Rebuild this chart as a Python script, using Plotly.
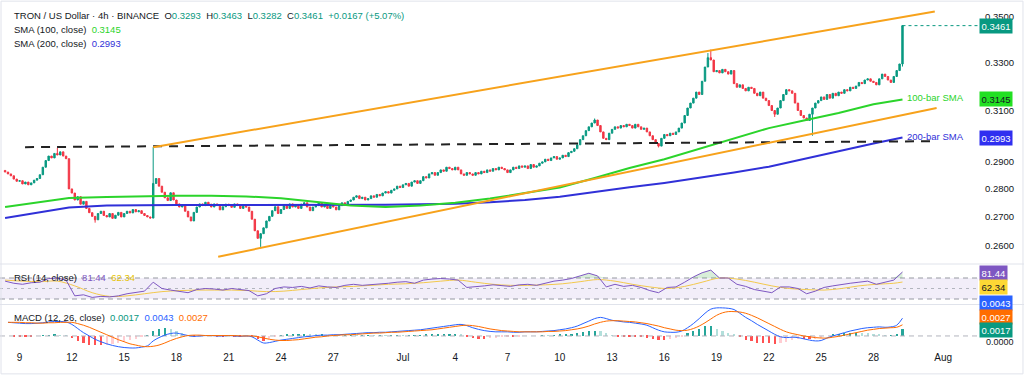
import math
import pandas as pd
import plotly.graph_objects as go

W, H = 1024, 375
PLOT_R = 978  # right edge of plotting area in px

# ---------------- data ----------------
candle_start = "2025-06-08 04:00"
first_open = 0.2868
closes = [
    0.2862, 0.2855, 0.2848, 0.2836, 0.2828,
    0.2830, 0.2818, 0.2825, 0.2815, 0.2822, 0.2832,
    0.2838, 0.2852, 0.2880, 0.2905, 0.2922, 0.2915,
    0.2932, 0.2926, 0.2938, 0.2922, 0.2912, 0.2800,
    0.2785, 0.2760, 0.2772, 0.2745, 0.2755, 0.2730,
    0.2715, 0.2702, 0.2690, 0.2712, 0.2720, 0.2705,
    0.2700, 0.2712, 0.2695, 0.2706, 0.2716, 0.2700,
    0.2712, 0.2720, 0.2714, 0.2726, 0.2718, 0.2722,
    0.2712, 0.2705, 0.2700, 0.2696, 0.2820, 0.2838,
    0.2810, 0.2788, 0.2768, 0.2758, 0.2786, 0.2760,
    0.2746, 0.2735, 0.2742, 0.2720, 0.2700, 0.2686,
    0.2716, 0.2735, 0.2746, 0.2740, 0.2752, 0.2745,
    0.2735, 0.2746, 0.2740, 0.2725, 0.2736, 0.2745,
    0.2740, 0.2734, 0.2746, 0.2740, 0.2730, 0.2738,
    0.2735, 0.2720, 0.2692, 0.2652, 0.2626, 0.2642,
    0.2662, 0.2686, 0.2702, 0.2722, 0.2736, 0.2712,
    0.2726, 0.2740, 0.2730, 0.2746, 0.2735, 0.2742,
    0.2730, 0.2745, 0.2750, 0.2735, 0.2722, 0.2735,
    0.2740, 0.2750, 0.2735, 0.2745, 0.2730, 0.2740,
    0.2735, 0.2725, 0.2740, 0.2750, 0.2745, 0.2755,
    0.2760, 0.2770, 0.2775, 0.2765, 0.2770, 0.2760,
    0.2765, 0.2775, 0.2770, 0.2780, 0.2775, 0.2785,
    0.2790, 0.2785, 0.2795, 0.2800, 0.2810, 0.2805,
    0.2815, 0.2820, 0.2810, 0.2825, 0.2830, 0.2820,
    0.2830, 0.2845, 0.2840, 0.2855, 0.2860, 0.2850,
    0.2860, 0.2870, 0.2865, 0.2880, 0.2875, 0.2870,
    0.2880, 0.2870, 0.2855, 0.2850, 0.2860, 0.2855,
    0.2850, 0.2860, 0.2855, 0.2865, 0.2860, 0.2870,
    0.2865, 0.2875, 0.2870, 0.2880, 0.2875, 0.2870,
    0.2860, 0.2870, 0.2880, 0.2875, 0.2885, 0.2880,
    0.2885, 0.2875, 0.2890, 0.2880, 0.2885, 0.2895,
    0.2900, 0.2910, 0.2905, 0.2915, 0.2920, 0.2910,
    0.2915, 0.2925, 0.2920, 0.2935, 0.2940, 0.2950,
    0.2965, 0.2985, 0.3000, 0.3020, 0.3035, 0.3050,
    0.3062, 0.3040, 0.3015, 0.2990, 0.2985, 0.3010,
    0.3025, 0.3035, 0.3030, 0.3040, 0.3035, 0.3045,
    0.3040, 0.3030, 0.3045, 0.3035, 0.3025, 0.3030,
    0.3015, 0.3000, 0.2985, 0.2970, 0.2960, 0.2990,
    0.3005, 0.3000, 0.3010, 0.3005, 0.3015, 0.3030,
    0.3050, 0.3080, 0.3110, 0.3130, 0.3150, 0.3175,
    0.3165, 0.3220, 0.3280, 0.3320, 0.3310, 0.3260,
    0.3265, 0.3255, 0.3270, 0.3260, 0.3250, 0.3265,
    0.3210, 0.3195, 0.3205, 0.3190, 0.3180, 0.3195,
    0.3190, 0.3170, 0.3160, 0.3175, 0.3150, 0.3140,
    0.3120, 0.3100, 0.3085, 0.3110, 0.3140, 0.3165,
    0.3185, 0.3180, 0.3170, 0.3130, 0.3100, 0.3080,
    0.3070, 0.3060, 0.3085, 0.3110, 0.3130, 0.3140,
    0.3155, 0.3145, 0.3165, 0.3150, 0.3170, 0.3160,
    0.3175, 0.3170, 0.3185, 0.3180, 0.3195, 0.3190,
    0.3200, 0.3215, 0.3210, 0.3225, 0.3230, 0.3220,
    0.3215, 0.3205, 0.3230, 0.3250, 0.3240, 0.3225,
    0.3215, 0.3240, 0.3265, 0.3293, 0.3461,
]
wick_high = {18: 0.2953, 51: 0.2956, 203: 0.3068, 242: 0.3340, 243: 0.3355, 309: 0.3463}
wick_low = {31: 0.2680, 88: 0.2597, 225: 0.2955, 265: 0.3074, 278: 0.3000, 309: 0.3282}

sma_times = ["2025-06-08 04:00", "2025-06-10", "2025-06-11 20:00", "2025-06-14", "2025-06-16",
             "2025-06-18", "2025-06-20", "2025-06-22", "2025-06-24", "2025-06-26", "2025-06-28",
             "2025-06-30", "2025-07-02", "2025-07-04", "2025-07-06", "2025-07-08", "2025-07-10",
             "2025-07-12", "2025-07-14", "2025-07-16", "2025-07-18", "2025-07-20", "2025-07-22",
             "2025-07-24", "2025-07-26", "2025-07-28", "2025-07-29 16:00"]
sma100 = [0.2735, 0.2750, 0.2767, 0.2771, 0.2774, 0.2775, 0.2775, 0.2773, 0.2766, 0.2753, 0.2740,
          0.2735, 0.2740, 0.2750, 0.2765, 0.2785, 0.2805, 0.2840, 0.2877, 0.2910, 0.2950, 0.2990,
          0.3030, 0.3060, 0.3090, 0.3125, 0.3145]
sma200 = [0.2696, 0.2715, 0.2733, 0.2740, 0.2742, 0.2742, 0.2742, 0.2742, 0.2742, 0.2742, 0.2742,
          0.2743, 0.2745, 0.2747, 0.2752, 0.2760, 0.2772, 0.2790, 0.2806, 0.2822, 0.2840, 0.2860,
          0.2882, 0.2910, 0.2940, 0.2970, 0.2993]

# trend lines (start/end points)
upper_channel_t = ["2025-06-16 16:00", "2025-07-31 12:30"]
upper_channel_p = [0.2956, 0.3525]
lower_channel_t = ["2025-06-20 09:30", "2025-07-31 15:00"]
lower_channel_p = [0.2564, 0.3110]
resist_t = ["2025-06-09 07:30", "2025-07-31 12:30"]
resist_p = [0.2956, 0.2979]

# RSI sampled every 12h from Jun 8 04:00
rsi_start = "2025-06-08 04:00"
rsi = [64, 60, 58, 61, 62, 69, 70, 66, 36, 38, 33, 35, 34, 36, 40, 43, 45, 62, 50, 47,
       44, 42, 48, 50, 49, 47, 50, 48, 46, 36, 40, 50, 53, 52, 54, 51, 55, 53, 52, 56,
       58, 56, 57, 59, 60, 62, 63, 60, 66, 68, 69, 68, 66, 52, 53, 55, 57, 55, 54, 57,
       58, 56, 60, 64, 66, 69, 74, 79, 74, 53, 58, 54, 56, 52, 46, 42, 52, 53, 62, 72,
       80, 85, 70, 70, 58, 54, 48, 45, 42, 53, 53, 50, 40, 45, 52, 55, 58, 60, 62, 64,
       58, 62, 66, 81.44]
# RSI moving average, daily at 04:00 from Jun 8, plus last bar
rsi_ma = [66, 64, 63, 64, 55, 42, 35, 36, 40, 44, 46, 47, 47, 47, 46, 44, 45, 48, 51, 53,
          54, 56, 58, 59, 61, 64, 66, 62, 58, 56, 56, 57, 59, 63, 67, 64, 58, 53, 50, 54,
          62, 70, 68, 62, 55, 50, 48, 47, 50, 55, 58, 60, 62.34]

# MACD sampled every 8h from Jun 8 08:00
macd_start = "2025-06-08 08:00"
macd = [0.0033, 0.0032, 0.0031, 0.0030, 0.0030, 0.0031, 0.0032, 0.0034, 0.0035, 0.0035, 0.0034, 0.0028,
        0.0018, 0.0008, 0.0000, -0.0008, -0.0014, -0.0019, -0.0023, -0.0026, -0.0028, -0.0029, -0.0029, -0.0027,
        -0.0024, -0.0012, -0.0004, 0.0002, 0.0006, 0.0007, 0.0004, 0.0001, -0.0001, 0.0000, 0.0001, 0.0001,
        0.0000, 0.0000, 0.0001, 0.0000, -0.0001, 0.0000, -0.0002, -0.0010, -0.0017, -0.0016, -0.0013, -0.0010,
        -0.0008, -0.0006, -0.0004, -0.0002, -0.0001, 0.0001, 0.0002, 0.0002, 0.0003, 0.0003, 0.0004, 0.0005,
        0.0006, 0.0007, 0.0008, 0.0008, 0.0009, 0.0009, 0.0010, 0.0011, 0.0012, 0.0013, 0.0014, 0.0015,
        0.0017, 0.0019, 0.0021, 0.0023, 0.0025, 0.0027, 0.0028, 0.0025, 0.0020, 0.0016, 0.0013, 0.0011,
        0.0010, 0.0010, 0.0010, 0.0009, 0.0009, 0.0010, 0.0010, 0.0010, 0.0011, 0.0012, 0.0013, 0.0015,
        0.0017, 0.0020, 0.0024, 0.0030, 0.0036, 0.0042, 0.0045, 0.0042, 0.0038, 0.0036, 0.0034, 0.0033,
        0.0031, 0.0029, 0.0026, 0.0020, 0.0014, 0.0010, 0.0009, 0.0009, 0.0012, 0.0020, 0.0030, 0.0042,
        0.0055, 0.0065, 0.0068, 0.0068, 0.0067, 0.0064, 0.0055, 0.0045, 0.0037, 0.0028, 0.0020, 0.0012,
        0.0004, -0.0002, -0.0004, -0.0003, -0.0004, -0.0007, -0.0010, -0.0012, -0.0011, -0.0005, 0.0000, 0.0004,
        0.0008, 0.0012, 0.0015, 0.0018, 0.0020, 0.0021, 0.0022, 0.0021, 0.0022, 0.0026, 0.0043]
signal = [0.0033, 0.0033, 0.0033, 0.0032, 0.0032, 0.0031, 0.0031, 0.0032, 0.0032, 0.0033, 0.0033, 0.0033,
          0.0030, 0.0026, 0.0021, 0.0015, 0.0009, 0.0003, -0.0003, -0.0009, -0.0014, -0.0019, -0.0022, -0.0025,
          -0.0026, -0.0025, -0.0022, -0.0017, -0.0011, -0.0006, -0.0002, 0.0001, 0.0002, 0.0002, 0.0001, 0.0001,
          0.0001, 0.0001, 0.0001, 0.0001, 0.0000, 0.0000, 0.0000, -0.0002, -0.0005, -0.0008, -0.0010, -0.0011,
          -0.0011, -0.0010, -0.0009, -0.0007, -0.0005, -0.0003, -0.0002, 0.0000, 0.0001, 0.0002, 0.0003, 0.0003,
          0.0004, 0.0005, 0.0006, 0.0007, 0.0007, 0.0008, 0.0009, 0.0009, 0.0010, 0.0011, 0.0012, 0.0013,
          0.0014, 0.0015, 0.0017, 0.0019, 0.0021, 0.0023, 0.0025, 0.0026, 0.0025, 0.0023, 0.0020, 0.0017,
          0.0015, 0.0013, 0.0012, 0.0011, 0.0010, 0.0010, 0.0010, 0.0010, 0.0010, 0.0011, 0.0011, 0.0012,
          0.0013, 0.0015, 0.0017, 0.0020, 0.0024, 0.0029, 0.0033, 0.0036, 0.0037, 0.0037, 0.0036, 0.0035,
          0.0034, 0.0032, 0.0030, 0.0027, 0.0024, 0.0020, 0.0017, 0.0014, 0.0013, 0.0014, 0.0018, 0.0024,
          0.0032, 0.0041, 0.0050, 0.0056, 0.0059, 0.0059, 0.0058, 0.0055, 0.0050, 0.0044, 0.0037, 0.0030,
          0.0023, 0.0016, 0.0010, 0.0006, 0.0003, 0.0000, -0.0002, -0.0004, -0.0005, -0.0005, -0.0003, -0.0001,
          0.0002, 0.0005, 0.0008, 0.0011, 0.0014, 0.0016, 0.0018, 0.0019, 0.0020, 0.0021, 0.0027]

price_ticks = [0.26, 0.27, 0.28, 0.29, 0.31, 0.33, 0.35]
x_tick_dates = ["2025-06-09", "2025-06-12", "2025-06-15", "2025-06-18", "2025-06-21", "2025-06-24",
                "2025-06-27", "2025-07-01", "2025-07-04", "2025-07-07", "2025-07-10", "2025-07-13",
                "2025-07-16", "2025-07-19", "2025-07-22", "2025-07-25", "2025-07-28", "2025-08-01"]
x_tick_text = ["9", "12", "15", "18", "21", "24", "27", "Jul", "4", "7", "10", "13", "16", "19",
               "22", "25", "28", "Aug"]

# ---------------- derived ----------------
times = pd.date_range(candle_start, periods=len(closes), freq="4h")
opens = [first_open] + closes[:-1]
highs = [wick_high.get(i, max(o, c)) for i, (o, c) in enumerate(zip(opens, closes))]
lows = [wick_low.get(i, min(o, c)) for i, (o, c) in enumerate(zip(opens, closes))]
rsi_t = pd.date_range(rsi_start, periods=len(rsi), freq="12h")
rsi_ma_t = list(pd.date_range(rsi_start, periods=len(rsi_ma) - 1, freq="24h")) + [times[-1]]
macd_t = pd.date_range(macd_start, periods=len(macd), freq="8h")
hist = [m - s for m, s in zip(macd, signal)]
hist_col = []
for i, h in enumerate(hist):
    prev = hist[i - 1] if i > 0 else h
    if h >= 0:
        hist_col.append("#26a69a" if h >= prev else "#b2dfdb")
    else:
        hist_col.append("#ff5252" if h <= prev else "#ffcdd2")

# ---------------- layout geometry ----------------
def py(px):  # pixel row -> paper y
    return 1 - px / H

MAIN = (5, 263)
RSIP = (265, 304)
MACDP = (305, 350)
x_range = ["2025-06-07 21:00", "2025-08-03 00:00"]
log_top = math.log10(0.35) + (17 - MAIN[0]) / 1774
log_bot = math.log10(0.35) - (MAIN[1] - 17) / 1774

GREEN = "#089981"
RED = "#f23645"
SMA100C = "#2bd42b"
SMA200C = "#3030d8"
ORANGE = "#f7a21b"
FONT = "Liberation Sans"

fig = go.Figure()

fig.add_trace(go.Scatter(x=sma_times, y=sma200, mode="lines", line=dict(color=SMA200C, width=2),
                         xaxis="x", yaxis="y", hoverinfo="skip"))
fig.add_trace(go.Scatter(x=sma_times, y=sma100, mode="lines", line=dict(color=SMA100C, width=2),
                         xaxis="x", yaxis="y", hoverinfo="skip"))
fig.add_trace(go.Scatter(x=resist_t, y=resist_p, mode="lines",
                         line=dict(color="#222222", width=2, dash="9px,7px"), xaxis="x", yaxis="y"))
fig.add_trace(go.Scatter(x=upper_channel_t, y=upper_channel_p, mode="lines",
                         line=dict(color=ORANGE, width=2), xaxis="x", yaxis="y"))
fig.add_trace(go.Scatter(x=lower_channel_t, y=lower_channel_p, mode="lines",
                         line=dict(color=ORANGE, width=2), xaxis="x", yaxis="y"))
fig.add_trace(go.Scatter(x=[times[-1], x_range[1]], y=[closes[-1], closes[-1]], mode="lines",
                         line=dict(color=GREEN, width=1, dash="dot"), xaxis="x", yaxis="y"))
fig.add_trace(go.Candlestick(x=times, open=opens, high=highs, low=lows, close=closes,
                             increasing=dict(line=dict(color=GREEN, width=1), fillcolor=GREEN),
                             decreasing=dict(line=dict(color=RED, width=1), fillcolor=RED),
                             whiskerwidth=0, xaxis="x", yaxis="y"))

# RSI pane
fig.add_trace(go.Scatter(x=x_range, y=[70, 70], mode="lines", line=dict(color="#9598a1", width=1, dash="5px,4px"),
                         xaxis="x2", yaxis="y2"))
fig.add_trace(go.Scatter(x=x_range, y=[30, 30], mode="lines", line=dict(color="#9598a1", width=1, dash="5px,4px"),
                         fill="tonexty", fillcolor="rgba(126,87,194,0.10)", xaxis="x2", yaxis="y2"))
fig.add_trace(go.Scatter(x=x_range, y=[50, 50], mode="lines", line=dict(color="#b2b5be", width=1, dash="3px,4px"),
                         xaxis="x2", yaxis="y2"))
fig.add_trace(go.Scatter(x=rsi_t, y=[70] * len(rsi), mode="lines", line=dict(width=0), xaxis="x2", yaxis="y2"))
fig.add_trace(go.Scatter(x=rsi_t, y=[max(v, 70) for v in rsi], mode="lines", line=dict(width=0),
                         fill="tonexty", fillcolor="rgba(76,175,80,0.22)", xaxis="x2", yaxis="y2"))
fig.add_trace(go.Scatter(x=rsi_ma_t, y=rsi_ma, mode="lines", line=dict(color="#f2c94c", width=1, shape="spline"),
                         xaxis="x2", yaxis="y2"))
fig.add_trace(go.Scatter(x=rsi_t, y=rsi, mode="lines", line=dict(color="#7e57c2", width=1),
                         xaxis="x2", yaxis="y2"))

# MACD pane
fig.add_trace(go.Scatter(x=x_range, y=[0, 0], mode="lines", line=dict(color="#b2b5be", width=1, dash="5px,4px"),
                         xaxis="x3", yaxis="y3"))
fig.add_trace(go.Bar(x=macd_t, y=hist, marker=dict(color=hist_col, line=dict(width=0)),
                     width=3 * 3600 * 1000, xaxis="x3", yaxis="y3"))
fig.add_trace(go.Scatter(x=macd_t, y=macd, mode="lines", line=dict(color="#2962ff", width=1, shape="spline"),
                         xaxis="x3", yaxis="y3"))
fig.add_trace(go.Scatter(x=macd_t, y=signal, mode="lines", line=dict(color="#ff6d00", width=1, shape="spline"),
                         xaxis="x3", yaxis="y3"))

xd = [0, PLOT_R / W]
axis_common = dict(type="date", range=x_range, showgrid=False, zeroline=False, showline=False,
                   domain=xd, fixedrange=True)
fig.update_layout(
    width=W, height=H, margin=dict(l=0, r=0, t=0, b=0),
    paper_bgcolor="white", plot_bgcolor="white", showlegend=False,
    font=dict(family=FONT, size=9, color="#131722"),
    xaxis=dict(**axis_common, anchor="y", showticklabels=False, rangeslider=dict(visible=False)),
    xaxis2=dict(**axis_common, anchor="y2", showticklabels=False, matches="x"),
    xaxis3=dict(**axis_common, anchor="y3", matches="x", tickvals=x_tick_dates, ticktext=x_tick_text,
                ticks="", tickfont=dict(size=10, color="#131722")),
    yaxis=dict(type="log", range=[log_bot, log_top], domain=[py(MAIN[1]), py(MAIN[0])], side="right",
               anchor="x", tickvals=price_ticks, ticktext=[f"{v:.4f}" for v in price_ticks],
               showgrid=False, zeroline=False, ticks="", ticklabelstandoff=6,
               tickfont=dict(size=9.5, color="#131722")),
    yaxis2=dict(range=[20.48, 94.76], domain=[py(RSIP[1]), py(RSIP[0])], side="right", anchor="x2",
                showticklabels=False, showgrid=False, zeroline=False),
    yaxis3=dict(range=[-0.0034, 0.0075], domain=[py(MACDP[1]), py(MACDP[0])], side="right", anchor="x3",
                showticklabels=False, showgrid=False, zeroline=False),
    bargap=0,
)

shapes = []
for ypx in (264, 304.5):
    shapes.append(dict(type="line", xref="paper", yref="paper", x0=0, x1=1, y0=py(ypx), y1=py(ypx),
                       line=dict(color="#e0e3eb", width=1)))
shapes.append(dict(type="rect", xref="paper", yref="paper", x0=0.001, x1=0.999, y0=0.003, y1=0.997,
                   line=dict(color="#e0e3eb", width=1)))
fig.update_layout(shapes=shapes)

ann = []
XL = PLOT_R / W

def box(text, ypaper, bg, fg="white"):
    ann.append(dict(text=text, x=XL + 1 / W, y=ypaper, xref="paper", yref="paper", xanchor="left",
                    yanchor="middle", showarrow=False, bgcolor=bg, borderpad=1.5,
                    font=dict(size=9.5, color=fg, family=FONT)))

def ylog_paper(v):
    frac = (math.log10(v) - log_bot) / (log_top - log_bot)
    return py(MAIN[1]) + frac * (py(MAIN[0]) - py(MAIN[1]))

box("0.3461", ylog_paper(closes[-1]), GREEN)
box("0.3145", ylog_paper(sma100[-1]), "#22e022", "#131722")
box("0.2993", ylog_paper(sma200[-1]), "#2f2ff0")
box("81.44", py(273), "#7e57c2")
box("62.34", py(287), "#fdd835", "#131722")
box("0.0043", py(302.5), "#2962ff")
box("0.0027", py(317), "#ff6d00")
ann.append(dict(text="0.0000", x=XL + 6 / W, y=py(342), xref="paper", yref="paper", xanchor="left",
                yanchor="middle", showarrow=False, font=dict(size=9, color="#131722", family=FONT)))
box("0.0017", py(329.5), "#089981")

for txt, col, v in (("100-bar SMA", SMA100C, sma100[-1]), ("200-bar SMA", SMA200C, sma200[-1])):
    ann.append(dict(text=txt, x=(905) / W, y=ylog_paper(v) + 0.004, xref="paper", yref="paper",
                    xanchor="left", yanchor="middle", showarrow=False,
                    font=dict(size=9.5, color=col, family=FONT)))

def legend(text, ypx):
    ann.append(dict(text=text, x=12 / W, y=py(ypx), xref="paper", yref="paper", xanchor="left",
                    yanchor="middle", showarrow=False, font=dict(size=9.5, color="#131722", family=FONT)))

def c(t, col):
    return f"<span style='color:{col}'>{t}</span>"

legend("TRON / US Dollar · 4h · BINANCE  O" + c("0.3293", GREEN) + "  H" + c("0.3463", GREEN) +
       "  L" + c("0.3282", GREEN) + "  C" + c("0.3461", GREEN) + "  " + c("+0.0167 (+5.07%)", GREEN), 15)
legend("SMA (100, close)  " + c("0.3145", SMA100C), 30)
legend("SMA (200, close)  " + c("0.2993", SMA200C), 44)
legend("RSI (14, close)  " + c("81.44", "#7e57c2") + "  " + c("62.34", "#e6c200"), 277)
legend("MACD (12, 26, close)  " + c("0.0017", "#089981") + "  " + c("0.0043", "#2962ff") + "  " +
       c("0.0027", "#ff6d00"), 317)

fig.update_layout(annotations=ann)
fig.write_html("out.html", config={"displayModeBar": False},
               post_script="document.body.style.margin='0';document.body.style.padding='0';")
